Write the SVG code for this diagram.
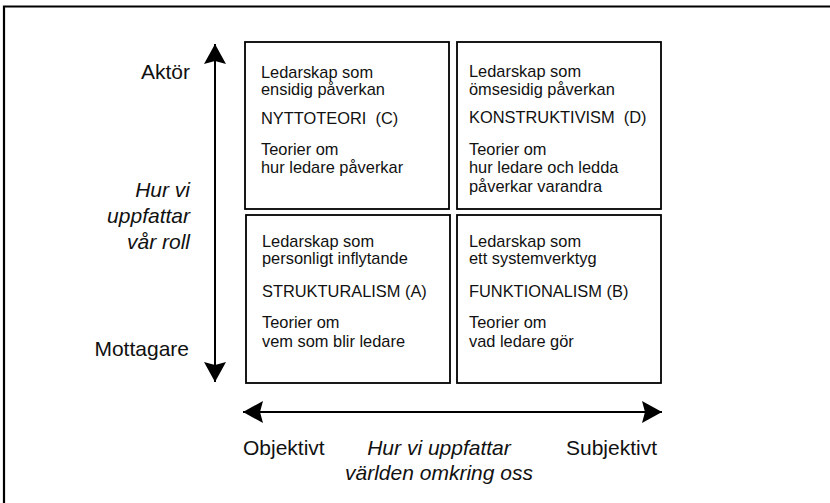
<svg xmlns="http://www.w3.org/2000/svg" width="830" height="503" viewBox="0 0 830 503">
<style>
.box{fill:#fff;stroke:#000;stroke-width:1.8}
.t{font-family:"Liberation Sans",Arial,sans-serif;font-size:16.4px;fill:#111;white-space:pre}
.ax{font-family:"Liberation Sans",Arial,sans-serif;font-size:21px;fill:#111}
.it{font-style:italic}
.arr{stroke:#000;stroke-width:2;fill:none}
</style>
<defs>
<marker id="ah" viewBox="0 0 20 22" refX="20" refY="11" markerWidth="20" markerHeight="22" markerUnits="userSpaceOnUse" orient="auto-start-reverse">
<path d="M0,0 L20,11 L0,22 L3,11 z" fill="#000"/>
</marker>
</defs>
<rect width="830" height="503" fill="#fff"/>
<path d="M4,503 V6.5 H830" fill="none" stroke="#000" stroke-width="2.2"/>

<g id="connectors">
<line class="arr" x1="215" y1="44" x2="215" y2="382" marker-start="url(#ah)" marker-end="url(#ah)"/>
<line class="arr" x1="243" y1="412" x2="662" y2="412" marker-start="url(#ah)" marker-end="url(#ah)"/>
</g>

<g id="axis-labels">
<text class="ax" x="190" y="79" text-anchor="end">Aktör</text>
<text class="ax it" x="190" y="197" text-anchor="end">Hur vi</text>
<text class="ax it" x="190" y="223" text-anchor="end">uppfattar</text>
<text class="ax it" x="190" y="249" text-anchor="end">vår roll</text>
<text class="ax" x="189" y="356" text-anchor="end">Mottagare</text>
<text class="ax" x="243" y="455">Objektivt</text>
<text class="ax it" x="439" y="455" text-anchor="middle">Hur vi uppfattar</text>
<text class="ax it" x="439" y="480" text-anchor="middle">världen omkring oss</text>
<text class="ax" x="657" y="455" text-anchor="end">Subjektivt</text>
</g>

<g id="box-c">
<rect class="box" x="245" y="42" width="204" height="167"/>
<text class="t" x="261" y="78">Ledarskap som</text>
<text class="t" x="261" y="95">ensidig påverkan</text>
<text class="t" x="261" y="124">NYTTOTEORI  (C)</text>
<text class="t" x="261" y="155">Teorier om</text>
<text class="t" x="261" y="173">hur ledare påverkar</text>
</g>

<g id="box-d">
<rect class="box" x="457" y="42" width="204" height="167"/>
<text class="t" x="469" y="77">Ledarskap som</text>
<text class="t" x="469" y="95">ömsesidig påverkan</text>
<text class="t" x="469" y="123">KONSTRUKTIVISM  (D)</text>
<text class="t" x="469" y="155">Teorier om</text>
<text class="t" x="469" y="173">hur ledare och ledda</text>
<text class="t" x="469" y="192">påverkar varandra</text>
</g>

<g id="box-a">
<rect class="box" x="246" y="215" width="204" height="168"/>
<text class="t" x="262" y="247">Ledarskap som</text>
<text class="t" x="262" y="264">personligt inflytande</text>
<text class="t" x="262" y="297">STRUKTURALISM (A)</text>
<text class="t" x="262" y="328">Teorier om</text>
<text class="t" x="262" y="347">vem som blir ledare</text>
</g>

<g id="box-b">
<rect class="box" x="457" y="215" width="204" height="168"/>
<text class="t" x="469" y="247">Ledarskap som</text>
<text class="t" x="469" y="264">ett systemverktyg</text>
<text class="t" x="469" y="297">FUNKTIONALISM (B)</text>
<text class="t" x="469" y="328">Teorier om</text>
<text class="t" x="469" y="347">vad ledare gör</text>
</g>
</svg>
